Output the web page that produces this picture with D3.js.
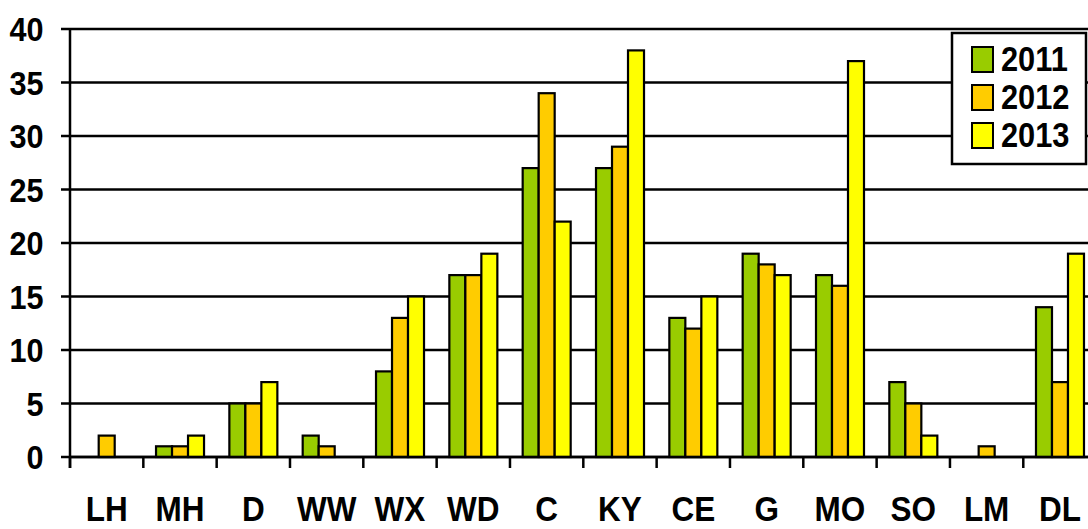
<!DOCTYPE html>
<html>
<head>
<meta charset="utf-8">
<script src="https://cdn.jsdelivr.net/npm/d3@7"></script>
<style>
  html, body { margin: 0; padding: 0; background: #fff; overflow: hidden; }
  svg { display: block; }
  text { font-family: "Liberation Sans", Arial, sans-serif; font-weight: bold; fill: #000; }
</style>
</head>
<body>
<svg id="chart" width="1088" height="529"></svg>
<script>
// Category codes along the x axis
const categories = ["LH", "MH", "D", "WW", "WX", "WD", "C", "KY", "CE", "G", "MO", "SO", "LM", "DL"];
// Yearly series
const years = ["2011", "2012", "2013"];
const values2011 = [0, 1, 5, 2, 8, 17, 27, 27, 13, 19, 17, 7, 0, 14];
const values2012 = [2, 1, 5, 1, 13, 17, 34, 29, 12, 18, 16, 5, 1, 7];
const values2013 = [0, 2, 7, 0, 15, 19, 22, 38, 15, 17, 37, 2, 0, 19];
const yTicks = [0, 5, 10, 15, 20, 25, 30, 35, 40];
const colors = ["#99CC00", "#FFCC00", "#FFFF00"];

const seriesValues = [values2011, values2012, values2013];
const rows = categories.map((c, i) => ({
  cat: c,
  vals: years.map((yr, j) => ({ year: yr, value: seriesValues[j][i] }))
}));

const svg = d3.select("#chart");
const W = 1088;
const plotLeft = 70, plotTop = 29, plotBottom = 457;
const band = 73.33;

const x = d3.scaleBand().domain(categories).range([plotLeft, plotLeft + band * categories.length]).padding(0);
const x1 = d3.scaleBand().domain(years).range([12.7, 60.7]).padding(0);
const y = d3.scaleLinear().domain([0, 40]).range([plotBottom, plotTop]);
const color = d3.scaleOrdinal().domain(years).range(colors);

// Horizontal gridlines with short ticks to the left of the axis
svg.append("g")
  .selectAll("line")
  .data(yTicks)
  .join("line")
  .attr("x1", plotLeft - 9)
  .attr("x2", W)
  .attr("y1", d => y(d))
  .attr("y2", d => y(d))
  .attr("stroke", "#000")
  .attr("stroke-width", 2.5);

// Y tick labels (slightly condensed)
svg.append("g")
  .selectAll("text")
  .data(yTicks)
  .join("text")
  .attr("text-anchor", "end")
  .attr("font-size", 34)
  .attr("transform", d => `translate(43.5,${y(d) + 12}) scale(0.9,1)`)
  .text(d => d);

// Bars
const groups = svg.append("g")
  .selectAll("g")
  .data(rows)
  .join("g")
  .attr("transform", d => `translate(${x(d.cat)},0)`);

groups.selectAll("rect")
  .data(d => d.vals.filter(v => v.value > 0))
  .join("rect")
  .attr("x", d => x1(d.year))
  .attr("width", x1.bandwidth())
  .attr("y", d => y(d.value))
  .attr("height", d => y(0) - y(d.value))
  .attr("fill", d => color(d.year))
  .attr("stroke", "#000")
  .attr("stroke-width", 2.2);

// Baseline and left axis
svg.append("line")
  .attr("x1", plotLeft).attr("x2", W)
  .attr("y1", y(0)).attr("y2", y(0))
  .attr("stroke", "#000").attr("stroke-width", 2.5);
svg.append("line")
  .attr("x1", plotLeft).attr("x2", plotLeft)
  .attr("y1", y(40)).attr("y2", y(0) + 11)
  .attr("stroke", "#000").attr("stroke-width", 2.5);

// Category boundary ticks below the baseline
svg.append("g")
  .selectAll("line")
  .data(categories)
  .join("line")
  .attr("x1", d => x(d))
  .attr("x2", d => x(d))
  .attr("y1", y(0))
  .attr("y2", y(0) + 11)
  .attr("stroke", "#000")
  .attr("stroke-width", 2.5);

// Category labels
svg.append("g")
  .selectAll("text")
  .data(categories)
  .join("text")
  .attr("text-anchor", "middle")
  .attr("font-size", 35)
  .attr("transform", d => `translate(${x(d) + x.bandwidth() / 2},521) scale(0.9,1)`)
  .text(d => d);

// Legend
const legend = svg.append("g");
legend.append("rect")
  .attr("x", 952).attr("y", 33)
  .attr("width", 134).attr("height", 131)
  .attr("fill", "#fff").attr("stroke", "#000").attr("stroke-width", 2.5);

const items = legend.selectAll("g.item")
  .data(years)
  .join("g")
  .attr("class", "item")
  .attr("transform", (d, i) => `translate(0,${i * 38})`);

items.append("rect")
  .attr("x", 972).attr("y", 47)
  .attr("width", 21).attr("height", 25)
  .attr("fill", d => color(d))
  .attr("stroke", "#000").attr("stroke-width", 2);

items.append("text")
  .attr("font-size", 35)
  .attr("transform", "translate(1001,71) scale(0.88,1)")
  .text(d => d);
</script>
</body>
</html>
